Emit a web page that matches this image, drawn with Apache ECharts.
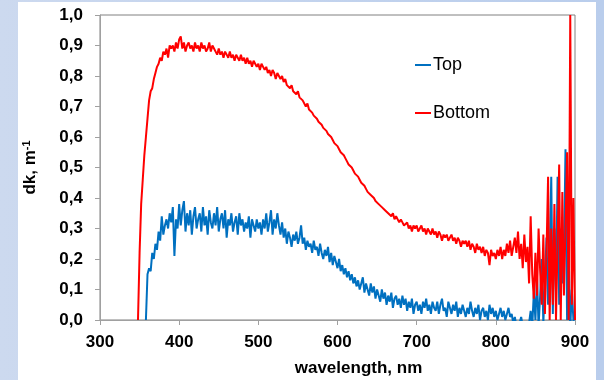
<!DOCTYPE html>
<html><head><meta charset="utf-8">
<script src="https://cdn.jsdelivr.net/npm/echarts@6/dist/echarts.min.js"></script>
<style>html,body{margin:0;padding:0;}#c{width:604px;height:380px;}</style>
</head><body><div id="c"></div>
<script>
// wavelength sampling of the spectra (nm)
const wlStart = 346, wlStep = 2;
const xTicks = [300, 400, 500, 600, 700, 800, 900];
const yTicks = [0, 0.1, 0.2, 0.3, 0.4, 0.5, 0.6, 0.7, 0.8, 0.9, 1.0];
const seriesNames = ['Top', 'Bottom'];
// dk values, Top, one row per 20 nm starting at 346 nm
const topValues = [
null,null,null,null,null,null,0.0,0.15,0.17,0.16,
0.22,0.20,0.25,0.23,0.29,0.26,0.34,0.28,0.31,0.33,
0.30,0.35,0.32,0.37,0.21,0.33,0.30,0.38,0.31,0.36,
0.39,0.29,0.35,0.31,0.36,0.28,0.34,0.37,0.30,0.33,
0.35,0.29,0.37,0.31,0.34,0.28,0.36,0.32,0.30,0.35,
0.31,0.37,0.29,0.33,0.35,0.30,0.36,0.27,0.33,0.31,
0.35,0.29,0.32,0.34,0.28,0.35,0.31,0.33,0.29,0.32,
0.30,0.34,0.27,0.33,0.31,0.29,0.33,0.30,0.32,0.28,
0.33,0.30,0.35,0.29,0.32,0.36,0.28,0.33,0.30,0.35,
0.31,0.28,0.32,0.27,0.30,0.25,0.29,0.27,0.24,0.28,
0.26,0.29,0.25,0.27,0.31,0.25,0.27,0.23,0.26,0.24,
0.25,0.22,0.26,0.23,0.24,0.21,0.25,0.22,0.20,0.23,
0.21,0.24,0.19,0.22,0.18,0.21,0.19,0.17,0.20,0.16,
0.18,0.15,0.17,0.14,0.16,0.13,0.15,0.12,0.14,0.11,
0.13,0.10,0.12,0.14,0.09,0.12,0.10,0.08,0.12,0.09,
0.11,0.07,0.10,0.08,0.06,0.10,0.07,0.09,0.05,0.08,
0.06,0.09,0.04,0.07,0.08,0.05,0.07,0.04,0.08,0.05,
0.07,0.03,0.06,0.04,0.07,0.02,0.05,0.06,0.03,0.05,
0.02,0.06,0.04,0.07,0.03,0.05,0.02,0.06,0.04,0.03,
0.06,0.02,0.05,0.07,0.03,0.04,0.01,0.06,0.04,0.02,
0.05,0.03,0.06,0.01,0.04,0.02,0.05,0.03,0.01,0.04,
0.02,0.06,0.03,0.01,0.04,0.02,0.05,0.00,0.03,0.04,
0.01,0.03,0.00,0.05,0.02,0.04,0.01,0.03,0.00,0.02,
0.04,0.01,0.03,0.00,0.02,0.04,0.01,0.02,-0.01,0.01,
-0.02,-0.03,-0.01,0.01,-0.02,-0.03,-0.02,-0.04,-0.01,0.03,
-0.02,0.09,0.0,0.14,-0.02,0.08,0.20,-0.01,0.12,0.27,
0.05,0.20,0.47,0.02,0.30,0.10,0.47,0.05,0.30,0.12,
0.20,0.56,0.0,0.22,-0.03,0.10,0.0,-0.02
];
// dk values, Bottom, one row per 20 nm starting at 346 nm
const bottomValues = [
null,0.0,0.22,0.38,0.46,0.54,0.60,0.66,0.72,0.75,
0.76,0.79,0.81,0.83,0.84,0.86,0.85,0.88,0.87,0.89,
0.86,0.90,0.89,0.90,0.88,0.91,0.89,0.92,0.93,0.89,
0.91,0.88,0.90,0.91,0.89,0.90,0.88,0.91,0.89,0.90,
0.88,0.91,0.89,0.90,0.88,0.89,0.91,0.88,0.90,0.89,
0.88,0.87,0.89,0.87,0.88,0.86,0.88,0.87,0.86,0.88,
0.86,0.87,0.85,0.87,0.86,0.85,0.87,0.85,0.86,0.84,
0.86,0.84,0.85,0.83,0.85,0.84,0.83,0.84,0.82,0.84,
0.83,0.82,0.83,0.81,0.82,0.80,0.82,0.81,0.79,0.81,
0.80,0.79,0.80,0.78,0.79,0.77,0.77,0.76,0.77,0.75,
0.75,0.74,0.75,0.73,0.73,0.72,0.72,0.70,0.71,0.69,
0.69,0.68,0.67,0.67,0.66,0.65,0.65,0.64,0.63,0.63,
0.62,0.61,0.61,0.60,0.59,0.58,0.58,0.57,0.56,0.55,
0.55,0.54,0.53,0.52,0.51,0.51,0.50,0.49,0.48,0.48,
0.47,0.46,0.45,0.45,0.44,0.43,0.42,0.42,0.41,0.41,
0.40,0.39,0.39,0.38,0.38,0.37,0.37,0.36,0.36,0.35,
0.35,0.34,0.35,0.33,0.34,0.33,0.32,0.33,0.32,0.31,
0.31,0.32,0.30,0.31,0.29,0.31,0.30,0.31,0.29,0.30,
0.31,0.29,0.30,0.28,0.30,0.29,0.28,0.30,0.28,0.29,
0.27,0.29,0.28,0.26,0.28,0.27,0.28,0.26,0.27,0.28,
0.26,0.27,0.25,0.27,0.26,0.24,0.26,0.25,0.26,0.24,
0.26,0.23,0.25,0.24,0.22,0.25,0.23,0.24,0.22,0.24,
0.21,0.23,0.22,0.18,0.23,0.21,0.22,0.20,0.23,0.21,
0.24,0.20,0.23,0.21,0.25,0.22,0.26,0.21,0.24,0.27,
0.22,0.29,0.20,0.25,0.17,0.28,0.19,0.24,0.12,0.34,
0.15,0.07,0.22,0.08,0.30,0.16,0.05,0.28,0.02,0.22,
0.47,0.0,0.30,0.05,0.38,0.0,0.25,0.51,0.0,0.42,
0.08,0.30,0.55,0.0,1.0,0.05,0.40,0.0
];
function pairs(vals){ return vals.map((v,i)=>[wlStart + i*wlStep, v]); }
const chart = echarts.init(document.getElementById('c'), null, {renderer:'canvas'});
const FONT = 'Liberation Sans, Arial, sans-serif';
const bold = {fontFamily:FONT, fontWeight:'bold', color:'#000'};
chart.setOption({
  backgroundColor: new echarts.graphic.LinearGradient(0,0,1,0,[{offset:0,color:'#ccd9ef'},{offset:1,color:'#b9cdec'}]),
  graphic: [{type:'rect', z:-10, silent:true, shape:{x:18, y:2, width:578, height:378}, style:{fill:'#ffffff'}}],
  animation:false,
  grid:{left:100, right:29, top:15, bottom:60, outerBoundsMode:'none', containLabel:false,
        show:true, borderColor:'#808080', borderWidth:1, backgroundColor:'#fff'},
  legend:{
    data: seriesNames, orient:'vertical', left:410, top:51, itemGap:30,
    icon:'rect', itemWidth:16, itemHeight:2,
    textStyle:{fontFamily:FONT, fontSize:18, color:'#000', padding:[0,0,0,-3]}
  },
  xAxis:{
    type:'value', min:xTicks[0], max:xTicks[xTicks.length-1], interval:100,
    name:'wavelength, nm', nameLocation:'middle', nameGap:40,
    nameTextStyle:Object.assign({fontSize:17, padding:[0,0,0,42]}, bold),
    axisLine:{lineStyle:{color:'#a0a0a0'}}, axisTick:{inside:false, length:5, lineStyle:{color:'#a0a0a0'}},
    axisLabel:Object.assign({fontSize:17, margin:14}, bold),
    splitLine:{show:false}
  },
  yAxis:{
    type:'value', min:yTicks[0], max:yTicks[yTicks.length-1], interval:0.1,
    name:'dk, m{sup|-1}', nameLocation:'middle', nameGap:60, nameRotate:90,
    nameTextStyle:Object.assign({fontSize:17, rich:{sup:{fontSize:11, fontWeight:'bold', fontFamily:FONT, color:'#000', verticalAlign:'top', padding:[0,0,8,0]}}}, bold),
    axisLine:{show:true, lineStyle:{color:'#a0a0a0'}}, axisTick:{show:true, length:5, lineStyle:{color:'#a0a0a0'}},
    axisLabel:Object.assign({fontSize:17, margin:17, formatter:v=>v.toFixed(1).replace('.', ',')}, bold),
    splitLine:{show:false}
  },
  series:[
    {name:seriesNames[0], type:'line', data:pairs(topValues), showSymbol:false, symbol:'none', clip:true,
     lineStyle:{color:'#0070c0', width:2}, itemStyle:{color:'#0070c0'}},
    {name:seriesNames[1], type:'line', data:pairs(bottomValues), showSymbol:false, symbol:'none', clip:true,
     lineStyle:{color:'#ff0000', width:2}, itemStyle:{color:'#ff0000'}}
  ]
});
</script></body></html>
